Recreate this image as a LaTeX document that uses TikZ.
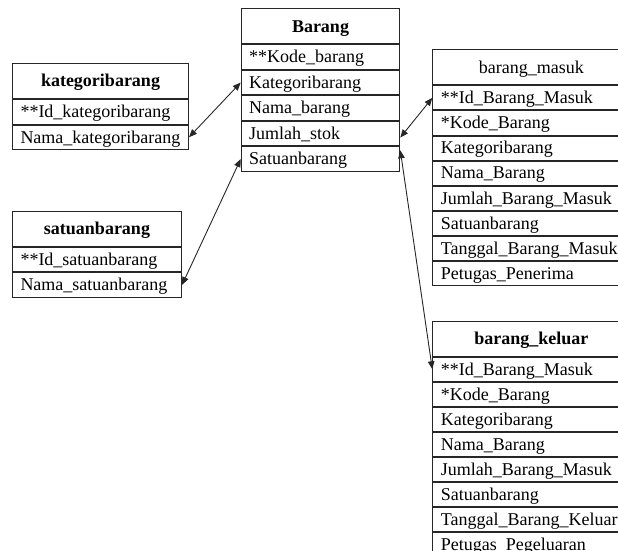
\documentclass[tikz,border=0pt]{standalone}
\usepackage{fontspec}
\setmainfont{Liberation Serif}
\usetikzlibrary{positioning,arrows.meta}

\tikzset{
  judul/.style={draw=black!85, line width=1pt, minimum height=35pt, inner xsep=8pt, inner ysep=0pt,
    text height=15.5pt, text depth=4pt, align=center, font=\fontsize{18}{20}\selectfont},
  kolom/.style={draw=black!85, line width=1pt, minimum height=24.5pt, inner xsep=8pt, inner ysep=0pt,
    text height=15.5pt, text depth=4pt, align=left, font=\fontsize{18}{20}\selectfont},
  relasi/.style={line width=0.9pt, draw=black!85,
    {Triangle[length=8pt,width=6.5pt]}-{Triangle[length=8pt,width=6.5pt]}}
}

\begin{document}
\begin{tikzpicture}[x=1pt,y=-1pt]
    % Frame
    \useasboundingbox (0,0) rectangle (618,551);
    \clip (0,0) rectangle (618,551);
    % Tabel kategoribarang
    \begin{scope}[every node/.append style={text width=160pt}]
    \node[judul, anchor=north west] (kat) at (12,63) {\textbf{kategoribarang}};
    \node[kolom, below=0pt of kat] (katid) {**Id\_kategoribarang};
    \node[kolom, below=0pt of katid] (katnama) {Nama\_kategoribarang};
    \end{scope}
    % Tabel satuanbarang
    \begin{scope}[every node/.append style={text width=153pt}]
    \node[judul, anchor=north west] (sat) at (12,210.7) {\textbf{satuanbarang}};
    \node[kolom, below=0pt of sat] (satid) {**Id\_satuanbarang};
    \node[kolom, below=0pt of satid] (satnama) {Nama\_satuanbarang};
    \end{scope}
    % Tabel Barang
    \begin{scope}[every node/.append style={text width=142.6pt}]
    \node[judul, anchor=north west] (brg) at (240.7,8.3) {\textbf{Barang}};
    \node[kolom, below=0pt of brg] (bkode) {**Kode\_barang};
    \node[kolom, below=0pt of bkode] (bkat) {Kategoribarang};
    \node[kolom, below=0pt of bkat] (bnama) {Nama\_barang};
    \node[kolom, below=0pt of bnama] (bjml) {Jumlah\_stok};
    \node[kolom, below=0pt of bjml] (bsat) {Satuanbarang};
    \end{scope}
    % Tabel barang_masuk
    \begin{scope}[every node/.append style={text width=181pt}, kolom/.append style={minimum height=24.1pt}]
    \node[judul, anchor=north west] (msk) at (432.3,49.3) {barang\_masuk};
    \node[kolom, below=0pt of msk] (mskid) {**Id\_Barang\_Masuk};
    \node[kolom, below=0pt of mskid] (mskkode) {*Kode\_Barang};
    \node[kolom, below=0pt of mskkode] (mskkat) {Kategoribarang};
    \node[kolom, below=0pt of mskkat] (msknama) {Nama\_Barang};
    \node[kolom, below=0pt of msknama] (mskjml) {Jumlah\_Barang\_Masuk};
    \node[kolom, below=0pt of mskjml] (msksat) {Satuanbarang};
    \node[kolom, below=0pt of msksat] (msktgl) {Tanggal\_Barang\_Masuk};
    \node[kolom, below=0pt of msktgl] (mskptg) {Petugas\_Penerima};
    \end{scope}
    % Tabel barang_keluar
    \begin{scope}[every node/.append style={text width=181pt}, kolom/.append style={minimum height=24.1pt}]
    \node[judul, anchor=north west] (kel) at (432.3,320.7) {\textbf{barang\_keluar}};
    \node[kolom, below=0pt of kel] (kelid) {**Id\_Barang\_Masuk};
    \node[kolom, below=0pt of kelid] (kelkode) {*Kode\_Barang};
    \node[kolom, below=0pt of kelkode] (kelkat) {Kategoribarang};
    \node[kolom, below=0pt of kelkat] (kelnama) {Nama\_Barang};
    \node[kolom, below=0pt of kelnama] (keljml) {Jumlah\_Barang\_Masuk};
    \node[kolom, below=0pt of keljml] (kelsat) {Satuanbarang};
    \node[kolom, below=0pt of kelsat] (keltgl) {Tanggal\_Barang\_Keluar};
    \node[kolom, below=0pt of keltgl] (kelptg) {Petugas\_Pegeluaran};
    \end{scope}
    % Relasi
    \draw[relasi] (katnama.east) -- (bkat.west);
    \draw[relasi] (satnama.east) -- (bsat.west);
    \draw[relasi] ([yshift=-4pt]bjml.east) -- (mskid.west);
    \draw[relasi] ([yshift=-4pt]bsat.north east) -- (kelid.west);
\end{tikzpicture}
\end{document}
